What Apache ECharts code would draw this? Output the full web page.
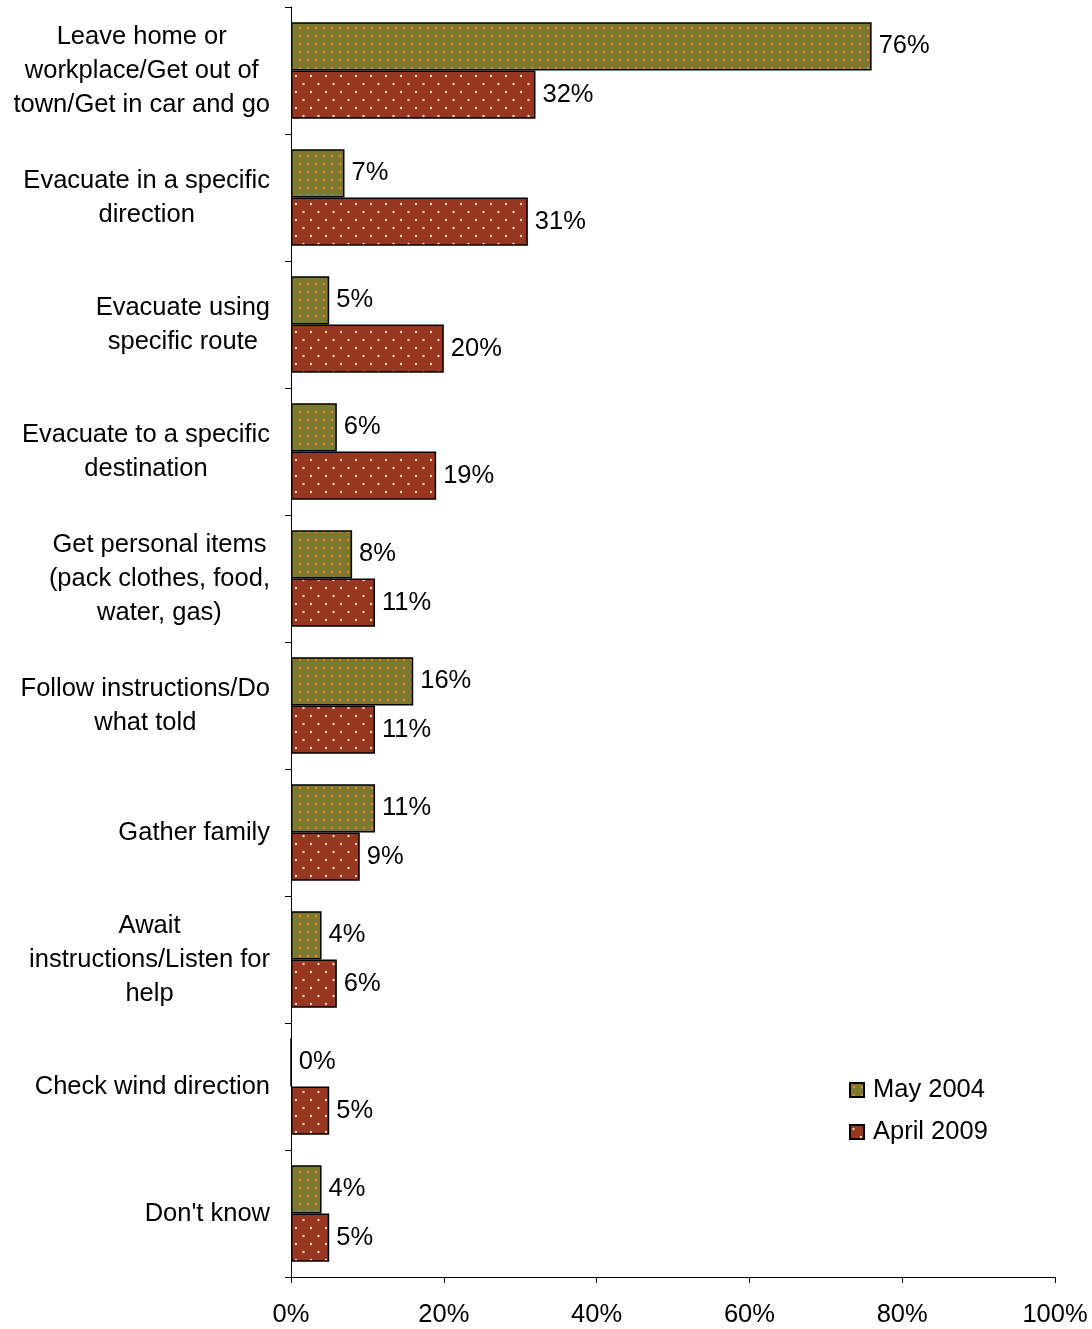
<!DOCTYPE html>
<html>
<head>
<meta charset="utf-8">
<script src="https://cdn.jsdelivr.net/npm/echarts@6/dist/echarts.min.js"></script>
<style>
html,body{margin:0;padding:0;background:#fff;}
#main{width:1092px;height:1329px;}
</style>
</head>
<body>
<div id="main"></div>
<script>
const categories = [
  "Leave home or\nworkplace/Get out of\ntown/Get in car and go",
  "Evacuate in a specific\ndirection",
  "Evacuate using\nspecific route",
  "Evacuate to a specific\ndestination",
  "Get personal items\n(pack clothes, food,\nwater, gas)",
  "Follow instructions/Do\nwhat told",
  "Gather family",
  "Await\ninstructions/Listen for\nhelp",
  "Check wind direction",
  "Don't know"
];
const may2004 = [76, 7, 5, 6, 8, 16, 11, 4, 0, 4];
const april2009 = [32, 31, 20, 19, 11, 11, 9, 6, 5, 5];
const seriesNames = ["May 2004", "April 2009"];
const xTicks = [0, 20, 40, 60, 80, 100];

function makePattern(bg, dot, w, h, dots, r) {
  const c = document.createElement('canvas');
  c.width = w; c.height = h;
  const ctx = c.getContext('2d');
  ctx.fillStyle = bg;
  ctx.fillRect(0, 0, w, h);
  ctx.fillStyle = dot;
  dots.forEach(p => {
    ctx.beginPath();
    ctx.arc(p[0], p[1], r, 0, Math.PI * 2);
    ctx.fill();
  });
  return { image: c, repeat: 'repeat' };
}
const olivePattern = makePattern('#7b7a30', '#ee7c24', 8, 8, [[4, 4]], 1.35);
const redPattern = makePattern('#983720', '#f6dcae', 15, 16, [[3.5, 4], [11, 12]], 1.2);

const chart = echarts.init(document.getElementById('main'), null, { renderer: 'canvas' });
const font = 'Liberation Sans, Arial, sans-serif';
const fs = 25.5;
const labelCommon = {
  show: true,
  position: 'right',
  distance: 7,
  formatter: p => p.value + '%',
  color: '#000',
  fontSize: fs,
  fontFamily: font
};
chart.setOption({
  animation: false,
  textStyle: { fontFamily: font },
  grid: { left: 291, right: 37, top: 7, bottom: 52, containLabel: false },
  legend: {
    orient: 'vertical',
    left: 844,
    top: 1072,
    icon: 'rect',
    itemWidth: 14,
    itemHeight: 14,
    itemGap: 16,
    textStyle: { fontSize: fs, color: '#000', fontFamily: font, lineHeight: 26, padding: [0, 0, 0, 4] },
    data: seriesNames
  },
  xAxis: {
    type: 'value',
    min: 0,
    max: 100,
    interval: 20,
    splitLine: { show: false },
    axisLine: { show: true, lineStyle: { color: '#000', width: 1 } },
    axisTick: { show: true, length: 6, lineStyle: { color: '#000' } },
    axisLabel: {
      fontSize: fs, color: '#000', fontFamily: font, margin: 25,
      formatter: v => xTicks.indexOf(v) >= 0 ? v + '%' : ''
    }
  },
  yAxis: {
    type: 'category',
    inverse: true,
    data: categories,
    axisLine: { show: true, lineStyle: { color: '#000', width: 1 } },
    axisTick: { show: true, length: 6, lineStyle: { color: '#000' } },
    axisLabel: {
      margin: 21,
      align: 'right',
      formatter: v => v.split('\n').map(l => '{c|' + l + '}').join('\n'),
      rich: {
        c: { align: 'center', fontSize: fs, lineHeight: 34, color: '#000', fontFamily: font }
      }
    }
  },
  series: [
    {
      name: seriesNames[0],
      type: 'bar',
      data: may2004,
      barCategoryGap: '24%',
      barGap: '0%',
      itemStyle: { color: olivePattern, borderColor: '#000', borderWidth: 1.5 },
      label: labelCommon
    },
    {
      name: seriesNames[1],
      type: 'bar',
      data: april2009,
      barCategoryGap: '24%',
      barGap: '0%',
      itemStyle: { color: redPattern, borderColor: '#000', borderWidth: 1.5 },
      label: labelCommon
    }
  ]
});
</script>
</body>
</html>
